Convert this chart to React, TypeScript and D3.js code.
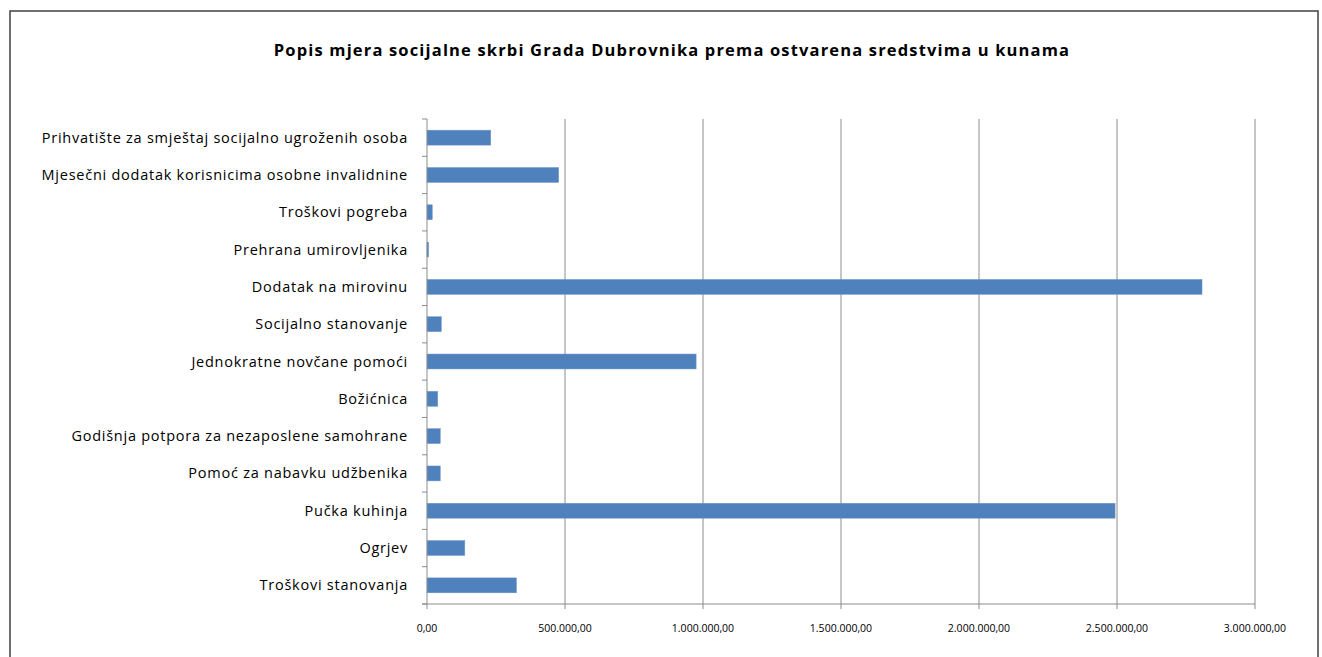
import React from "react";
import * as d3 from "d3";

const title = "Popis mjera socijalne skrbi Grada Dubrovnika prema ostvarena sredstvima u kunama";

const categories = [
  "Prihvatište za smještaj socijalno ugroženih osoba",
  "Mjesečni dodatak korisnicima osobne invalidnine",
  "Troškovi pogreba",
  "Prehrana umirovljenika",
  "Dodatak na mirovinu",
  "Socijalno stanovanje",
  "Jednokratne novčane pomoći",
  "Božićnica",
  "Godišnja potpora za nezaposlene samohrane",
  "Pomoć za nabavku udžbenika",
  "Pučka kuhinja",
  "Ogrjev",
  "Troškovi stanovanja",
];

const values = [
  231000, 477000, 19000, 6000, 2808000, 52000, 975000, 39000, 48000, 48000, 2493000, 137000, 324000,
];

const xTicks = [0, 500000, 1000000, 1500000, 2000000, 2500000, 3000000];

const W = 1322;
const H = 657;
const FONT = "'Open Sans', 'DejaVu Sans', sans-serif";

export default function App() {
  const x = d3.scaleLinear().domain([0, 3000000]).range([427, 1255]);
  const y = d3
    .scaleBand<string>()
    .domain(categories)
    .range([119, 604])
    .paddingInner(0.6)
    .paddingOuter(0.3);
  const step = y.step();
  const top = 119;
  const bottom = 604;
  const fmt = d3
    .formatLocale({ decimal: ",", thousands: ".", grouping: [3], currency: ["", ""] })
    .format(",.2f");

  const boundaries = d3.range(categories.length + 1).map((i) => top + i * step);

  return (
    <svg
      width={W}
      height={H}
      style={{ position: "absolute", left: 0, top: 0, background: "#fff" }}
      fontFamily={FONT}
    >
      <rect x={0} y={0} width={W} height={H} fill="#fff" />
      <rect x={10} y={11} width={1308} height={700} fill="none" stroke="#404040" strokeWidth={1.5} />
      <text
        x={672}
        y={56}
        textAnchor="middle"
        fontSize={16.5}
        fontWeight="bold"
        letterSpacing={1.16}
        fill="#000"
      >
        {title}
      </text>

      {/* gridlines */}
      {xTicks.slice(1).map((t) => (
        <line key={"g" + t} x1={x(t)} x2={x(t)} y1={top} y2={bottom} stroke="#8c8c8c" strokeWidth={1} />
      ))}

      {/* bars */}
      {categories.map((c, i) => (
        <rect
          key={c}
          x={x(0)}
          y={y(c)}
          width={x(values[i]) - x(0)}
          height={y.bandwidth()}
          fill="#4F81BD"
          stroke="#6d97c9"
          strokeWidth={0.5}
        />
      ))}

      {/* y axis */}
      <line x1={x(0)} x2={x(0)} y1={top} y2={bottom} stroke="#8c8c8c" strokeWidth={1} />
      {boundaries.map((b, i) => (
        <line key={"yt" + i} x1={x(0) - 5} x2={x(0)} y1={b} y2={b} stroke="#8c8c8c" strokeWidth={1} />
      ))}

      {/* x axis */}
      <line x1={x(0) - 5} x2={x(3000000)} y1={bottom} y2={bottom} stroke="#8c8c8c" strokeWidth={1} />
      {xTicks.map((t) => (
        <line key={"xt" + t} x1={x(t)} x2={x(t)} y1={bottom} y2={bottom + 5} stroke="#8c8c8c" strokeWidth={1} />
      ))}
      {xTicks.map((t) => (
        <text key={"xl" + t} x={x(t)} y={632} textAnchor="middle" fontSize={10.5} fill="#000">
          {fmt(t)}
        </text>
      ))}

      {/* category labels */}
      {categories.map((c) => (
        <text
          key={"l" + c}
          x={408}
          y={(y(c) as number) + y.bandwidth() / 2}
          dy="0.35em"
          textAnchor="end"
          fontSize={14.5}
          letterSpacing={0.75}
          fill="#000"
        >
          {c}
        </text>
      ))}
    </svg>
  );
}
